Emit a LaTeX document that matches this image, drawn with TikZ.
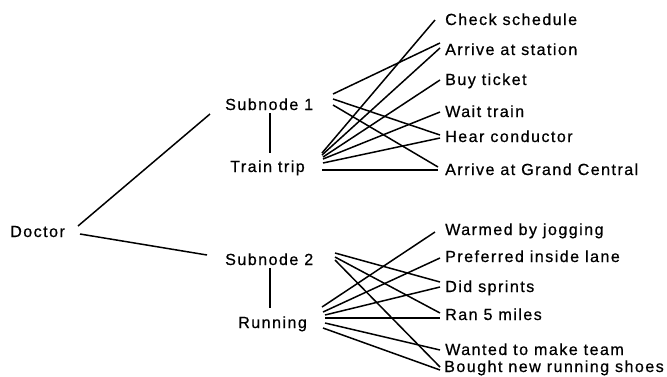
\documentclass[tikz,border=0pt]{standalone}
\usepackage{fontspec}
\setmainfont{Liberation Sans}[LetterSpace=9,FakeBold=0.6]
\usetikzlibrary{calc}
\begin{document}
\begin{tikzpicture}[x=1pt,y=-1pt,
  lbl/.style={anchor=base west, inner sep=0pt, font=\fontsize{16.1}{18}\selectfont},
  ln/.style={line width=1.5pt}]
\useasboundingbox (0,0) rectangle (667,376);
\fill[white] (0,0) rectangle (667,376);
% left nodes
\node[lbl] (doc) at (10,237) {Doctor};
\node[lbl] (s1) at (225,110) {Subnode 1};
\node[lbl] (tt) at (230,172) {Train trip};
\node[lbl] (s2) at (225,265) {Subnode 2};
\node[lbl] (run) at (238,328) {Running};
% right nodes
\node[lbl] (a1) at (445,25) {Check schedule};
\node[lbl] (a2) at (445,55) {Arrive at station};
\node[lbl] (a3) at (445,85) {Buy ticket};
\node[lbl] (a4) at (445,117) {Wait train};
\node[lbl] (a5) at (445,142) {Hear conductor};
\node[lbl] (a6) at (445,175) {Arrive at Grand Central};
\node[lbl] (b1) at (445,235) {Warmed by jogging};
\node[lbl] (b2) at (445,262) {Preferred inside lane};
\node[lbl] (b3) at (445,292) {Did sprints};
\node[lbl] (b4) at (445,320) {Ran 5 miles};
\node[lbl] (b5) at (445,355) {Wanted to make team};
\node[lbl] (b6) at (444,372) {Bought new running shoes};
% trunk
\draw[ln] ($(doc.base west)+(68,-11)$) -- ($(s1.base west)+(-15,4)$);
\draw[ln] ($(doc.base west)+(70,-3)$) -- ($(s2.base west)+(-18,-10)$);
\draw[ln] ($(s1.base west)+(45,3)$) -- ($(tt.base west)+(40,-19)$);
\draw[ln] ($(s2.base west)+(45,3)$) -- ($(run.base west)+(32,-20)$);
% subnode 1
\draw[ln] ($(s1.base west)+(108,-16)$) -- ($(a2.base west)+(-5,-12)$);
\draw[ln] ($(s1.base west)+(108,-11)$) -- ($(a5.base west)+(-5,-7)$);
\draw[ln] ($(s1.base west)+(108,-5)$) -- ($(a6.base west)+(-7,-8)$);
% train trip
\draw[ln] ($(tt.base west)+(92,-19)$) -- ($(a1.base west)+(-10,-5)$);
\draw[ln] ($(tt.base west)+(92,-17)$) -- ($(a2.base west)+(-5,-7)$);
\draw[ln] ($(tt.base west)+(93,-15)$) -- ($(a3.base west)+(-5,-5)$);
\draw[ln] ($(tt.base west)+(93,-13)$) -- ($(a4.base west)+(-5,-5)$);
\draw[ln] ($(tt.base west)+(93,-9)$) -- ($(a5.base west)+(-5,-4)$);
\draw[ln] ($(tt.base west)+(92,-2)$) -- ($(a6.base west)+(-7,-5)$);
% subnode 2
\draw[ln] ($(s2.base west)+(110,-12)$) -- ($(b3.base west)+(-5,-10)$);
\draw[ln] ($(s2.base west)+(110,-8)$) -- ($(b4.base west)+(-5,-7)$);
\draw[ln] ($(s2.base west)+(110,-5)$) -- ($(b6.base west)+(-4,-5)$);
% running
\draw[ln] ($(run.base west)+(84,-21)$) -- ($(b1.base west)+(-10,-3)$);
\draw[ln] ($(run.base west)+(85,-16)$) -- ($(b2.base west)+(-5,-4)$);
\draw[ln] ($(run.base west)+(87,-13)$) -- ($(b3.base west)+(-5,-5)$);
\draw[ln] ($(run.base west)+(87,-10)$) -- ($(b4.base west)+(-5,-2)$);
\draw[ln] ($(run.base west)+(87,-5)$) -- ($(b5.base west)+(-5,-5)$);
\draw[ln] ($(run.base west)+(85,0)$) -- ($(b6.base west)+(-4,-2)$);
\end{tikzpicture}
\end{document}
